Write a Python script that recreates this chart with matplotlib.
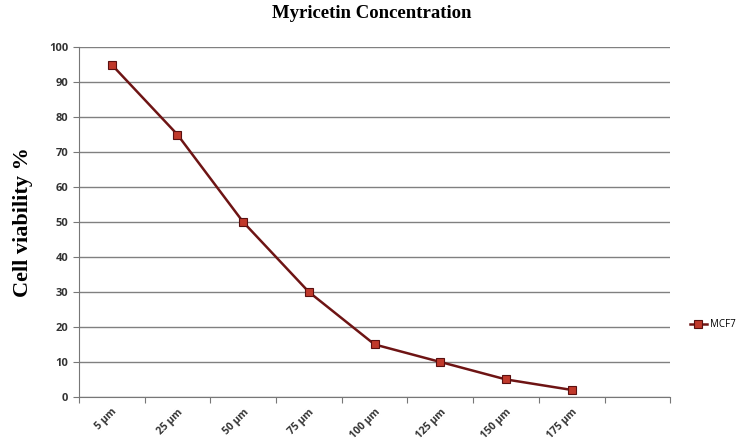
import matplotlib.pyplot as plt
import numpy as np

concentrations = ['5 µm', '25 µm', '50 µm', '75 µm', '100 µm', '125 µm', '150 µm', '175 µm']
viability = [95, 75, 50, 30, 15, 10, 5, 2]

fig = plt.figure(figsize=(7.44, 4.45), dpi=100)
ax = fig.add_axes([0.106, 0.108, 0.795, 0.786])

x = np.arange(len(concentrations)) + 0.5
ax.plot(x, viability, color='#6e1414', linewidth=1.8, marker='s', markersize=6,
        markerfacecolor='#c0392b', markeredgecolor='#5a1010', markeredgewidth=0.8,
        label='MCF7', zorder=3)

ax.set_xlim(0, 9)
ax.set_ylim(0, 100)
ax.set_yticks(range(0, 101, 10))
ax.set_xticks(range(0, 10))
ax.set_xticklabels([])
ax.set_xticks(x, minor=True)
ax.set_xticklabels(concentrations, minor=True, rotation=45, ha='right',
                   rotation_mode='anchor', fontsize=7.5, fontweight='bold',
                   family='Open Sans', color='#333333')
ax.tick_params(axis='x', which='minor', length=0, pad=7)
ax.tick_params(axis='x', which='major', length=4, color='#777777', direction='out')
ax.tick_params(axis='y', length=4, color='#777777', labelsize=8, labelcolor='#333333')
for lab in ax.get_yticklabels():
    lab.set_fontweight('bold')
    lab.set_family('Open Sans')

ax.grid(axis='y', color='#808080', linewidth=1.0)
ax.set_axisbelow(True)
for s in ['top', 'right']:
    ax.spines[s].set_visible(False)
for s in ['left', 'bottom']:
    ax.spines[s].set_color('#777777')

ax.set_ylabel('Cell viability %', fontsize=16, fontweight='bold',
              family='Liberation Serif', labelpad=12)
fig.text(0.5, 0.97, 'Myricetin Concentration', ha='center', va='center',
         fontsize=13.5, fontweight='bold', family='Liberation Serif')

fig.legend(loc='center left', bbox_to_anchor=(0.915, 0.27), frameon=False,
           handlelength=1.8, handletextpad=0.3,
           prop={'family': 'Open Sans', 'size': 7})

fig.savefig('out.png', dpi=100)
